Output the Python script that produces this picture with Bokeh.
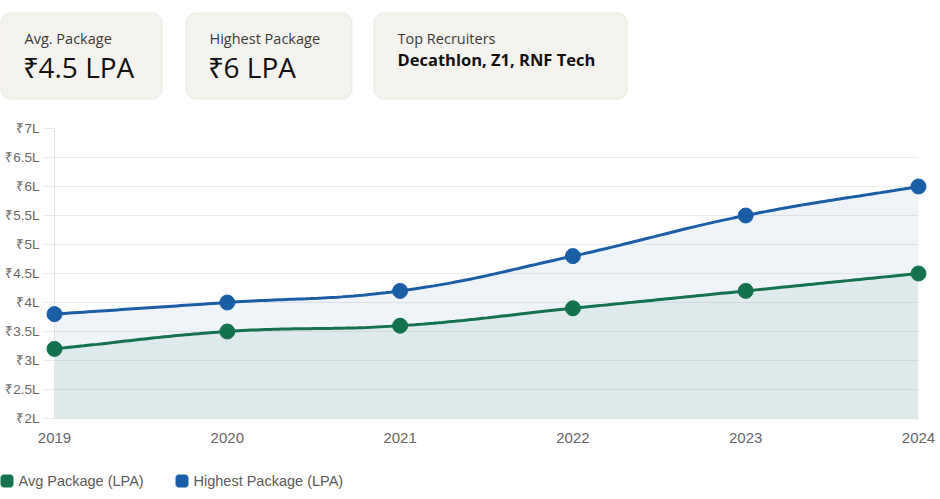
import math
from bokeh.plotting import figure
from bokeh.models import Range1d, FixedTicker, CustomJSTickFormatter
from bokeh.layouts import column
from bokeh.core.properties import value
from bokeh.embed import file_html
from bokeh.resources import INLINE

# ---------------- data ----------------
years = [2019, 2020, 2021, 2022, 2023, 2024]
avg_package = [3.2, 3.5, 3.6, 3.9, 4.2, 4.5]
highest_package = [3.8, 4.0, 4.2, 4.8, 5.5, 6.0]
y_ticks = [2, 2.5, 3, 3.5, 4, 4.5, 5, 5.5, 6, 6.5, 7]
series_names = ["Avg Package (LPA)", "Highest Package (LPA)"]
card_titles = ["Avg. Package", "Highest Package", "Top Recruiters"]
card_values = ["₹4.5 LPA", "₹6 LPA", "Decathlon, Z1, RNF Tech"]

GREEN = "#14724f"
BLUE = "#1b5ea8"
W = 940
FL, FR = 54, 918   # frame left / right (shared by all stacked figures)


def rounded_rect(l, r, t, b, rad, n=8):
    xs, ys = [], []
    corners = [(r - rad, t + rad, -90, 0), (r - rad, b - rad, 0, 90),
               (l + rad, b - rad, 90, 180), (l + rad, t + rad, 180, 270)]
    for cx, cy, a0, a1 in corners:
        for k in range(n + 1):
            a = math.radians(a0 + (a1 - a0) * k / n)
            xs.append(cx + rad * math.cos(a))
            ys.append(cy + rad * math.sin(a))
    return xs, ys


def pixel_figure(h):
    f = figure(width=W, height=h, x_range=Range1d(FL, FR), y_range=Range1d(h, 0),
               toolbar_location=None, output_backend="svg", min_border=0,
               min_border_left=FL, min_border_right=W - FR)
    f.axis.visible = False
    f.grid.visible = False
    f.outline_line_color = None
    return f


# ---------------- top cards ----------------
top = pixel_figure(110)
cards = [(0, 162), (185, 352), (373, 627)]
for (l, r) in cards:
    cx, cy = rounded_rect(l + 0.5, r - 0.5, 12.5, 98.5, 10)
    top.patch(cx, cy, fill_color="#f4f3ee", line_color="#ebe9df", line_width=1, level="overlay")

FONT = "Open Sans"
for i, (l, r) in enumerate(cards):
    top.text(x=[l + 24], y=[37.5], text=[card_titles[i]], text_font=value(FONT),
             text_font_size="14.5px", text_baseline="middle", text_color="#3a3a3a",
             level="overlay")
    if i < 2:
        top.text(x=[l + 22], y=[66.5], text=[card_values[i]], text_font=value(FONT),
                 text_font_size="28px", text_baseline="middle", text_color="#111111",
                 level="overlay")
    else:
        top.text(x=[l + 24], y=[59], text=[card_values[i]], text_font=value(FONT),
                 text_font_size="16.5px", text_font_style="bold",
                 text_baseline="middle", text_color="#111111", level="overlay")

# ---------------- spline (Chart.js style, tension 0.4) ----------------
XS = (FR - FL) / (years[-1] - years[0])
YS = 289 / (y_ticks[-1] - y_ticks[0])


def smooth(xs, ys, t=0.4, steps=40):
    px = [(x - xs[0]) * XS for x in xs]
    py = [y * YS for y in ys]
    n = len(px)
    cp_prev, cp_next = [], []
    for i in range(n):
        a = max(i - 1, 0)
        b = min(i + 1, n - 1)
        d01 = math.hypot(px[i] - px[a], py[i] - py[a])
        d12 = math.hypot(px[b] - px[i], py[b] - py[i])
        s = d01 + d12
        s01 = d01 / s if s else 0
        s12 = d12 / s if s else 0
        fa, fb = t * s01, t * s12
        cp_prev.append((px[i] - fa * (px[b] - px[a]), py[i] - fa * (py[b] - py[a])))
        cp_next.append((px[i] + fb * (px[b] - px[a]), py[i] + fb * (py[b] - py[a])))
    ox, oy = [], []
    for i in range(n - 1):
        p0 = (px[i], py[i]); p1 = cp_next[i]; p2 = cp_prev[i + 1]; p3 = (px[i + 1], py[i + 1])
        for k in range(steps + (1 if i == n - 2 else 0)):
            u = k / steps
            m = 1 - u
            bx = m**3 * p0[0] + 3 * m * m * u * p1[0] + 3 * m * u * u * p2[0] + u**3 * p3[0]
            by = m**3 * p0[1] + 3 * m * m * u * p1[1] + 3 * m * u * u * p2[1] + u**3 * p3[1]
            ox.append(bx / XS + xs[0])
            oy.append(by / YS)
    return ox, oy


hx, hy = smooth(years, highest_package)
ax_, ay_ = smooth(years, avg_package)

# ---------------- chart ----------------
p = figure(width=W, height=352, x_range=Range1d(years[0], years[-1]),
           y_range=Range1d(y_ticks[0], y_ticks[-1]),
           toolbar_location=None, output_backend="svg",
           min_border_left=FL, min_border_right=W - FR, min_border_top=18, min_border_bottom=44)
p.outline_line_color = None
p.xgrid.visible = False
p.ygrid.grid_line_color = "#ebebeb"
p.ygrid.ticker = FixedTicker(ticks=y_ticks)

p.yaxis.ticker = FixedTicker(ticks=y_ticks)
p.yaxis.formatter = CustomJSTickFormatter(code="return '\u20b9' + tick + 'L';")
p.yaxis.axis_line_color = "#e2e2e2"
p.yaxis.major_tick_line_color = "#e8e8e8"
p.yaxis.major_tick_out = 10
p.yaxis.major_tick_in = 0
p.yaxis.minor_tick_line_color = None
p.yaxis.major_label_standoff = 5
p.yaxis.major_label_text_font = "Liberation Sans"
p.yaxis.major_label_text_font_size = "13.5px"
p.yaxis.major_label_text_color = "#666666"

p.xaxis.ticker = FixedTicker(ticks=years)
p.xaxis.axis_line_color = "#e2e2e2"
p.xaxis.major_tick_line_color = None
p.xaxis.major_tick_out = 0
p.xaxis.major_tick_in = 0
p.xaxis.minor_tick_line_color = None
p.xaxis.major_label_standoff = 14
p.xaxis.major_label_text_font = "Liberation Sans"
p.xaxis.major_label_text_font_size = "15px"
p.xaxis.major_label_text_color = "#666666"

base = y_ticks[0]
p.patch(hx + [years[-1], years[0]], hy + [base, base], fill_color=BLUE, fill_alpha=0.07,
        line_color=None)
p.patch(ax_ + [years[-1], years[0]], ay_ + [base, base], fill_color=GREEN, fill_alpha=0.07,
        line_color=None)
p.line(hx, hy, line_color=BLUE, line_width=3)
p.line(ax_, ay_, line_color=GREEN, line_width=3)
p.scatter(years, highest_package, size=15, fill_color=BLUE, line_color=BLUE, level="overlay")
p.scatter(years, avg_package, size=15, fill_color=GREEN, line_color=GREEN, level="overlay")

# ---------------- legend (drawn below the chart) ----------------
lg = pixel_figure(37)
legend_x = [0, 175]
for i, (lx, col) in enumerate(zip(legend_x, [GREEN, BLUE])):
    mx, my = rounded_rect(lx + 0.5, lx + 12.5, 12.5, 24.5, 2.5)
    lg.patch(mx, my, fill_color=col, line_color=col, line_width=1, level="overlay")
    lg.text(x=[lx + 18], y=[18.5], text=[series_names[i]], text_font=value("Liberation Sans"),
            text_font_size="14.5px", text_baseline="middle", text_color="#5a5a5a",
            level="overlay")

layout = column(top, p, lg, spacing=0)
open("out.html", "w").write(file_html(layout, INLINE))
